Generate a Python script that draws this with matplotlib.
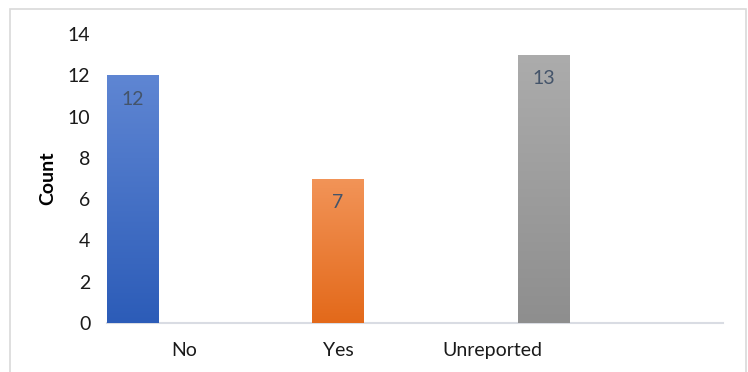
import numpy as np
import matplotlib.pyplot as plt
from matplotlib.patches import Rectangle
from matplotlib.colors import LinearSegmentedColormap

plt.rcParams['font.family'] = ['Lato', 'DejaVu Sans']

categories = ["No", "Yes", "Unreported", ""]
series_values = [12, 7, 13]   # one series per category, clustered Excel style
series_index = [0, 1, 2]
top_colors = ["#5f86d3", "#f29458", "#acacac"]
bottom_colors = ["#2c5cb8", "#e3691a", "#8e8e8e"]
yticks = [0, 2, 4, 6, 8, 10, 12, 14]

fig = plt.figure(figsize=(7.48, 3.72), dpi=100)
ax = fig.add_axes([107/748, 1-323/372, (723-107)/748, (323-34)/372])

# outer chart border
fig.patches.append(Rectangle((10/748, -0.05), (746-10)/748, 1.05-9/372,
                             transform=fig.transFigure, fill=False,
                             edgecolor="#d9d9d9", linewidth=1.2))

w = 1/3
x = np.arange(len(categories))
for i, v in zip(series_index, series_values):
    pos = x[i] + (i - 1) * w
    bars = ax.bar(pos, v, width=w, color=bottom_colors[i], edgecolor="none", zorder=2)
    b = bars[0]
    cmap = LinearSegmentedColormap.from_list("g%d" % i, [bottom_colors[i], top_colors[i]])
    grad = np.linspace(0, 1, 256).reshape(-1, 1)
    im = ax.imshow(grad, cmap=cmap, origin="lower", aspect="auto",
                   extent=[b.get_x(), b.get_x() + b.get_width(), 0, v], zorder=3)
    im.set_clip_path(b)
    ax.annotate(str(v), (pos, v), xytext=(0, -11), textcoords="offset points",
                ha="center", va="top", fontsize=14, color="#44546a", zorder=4)

ax.set_xlim(-0.5, len(categories) - 0.5)
ax.set_ylim(0, 14)
ax.set_yticks(yticks)
ax.set_xticks(x)
ax.set_xticklabels(categories)
ax.tick_params(axis="both", length=0, labelsize=14, colors="#1a1a1a")
ax.tick_params(axis="y", pad=12)
ax.tick_params(axis="x", pad=14)
for s in ["top", "right", "left"]:
    ax.spines[s].set_visible(False)
ax.spines["bottom"].set_color("#d9dce3")
ax.spines["bottom"].set_linewidth(1.5)
ax.set_ylabel("Count", fontsize=14, fontweight="bold", labelpad=8)

fig.savefig("out.png", dpi=100)
